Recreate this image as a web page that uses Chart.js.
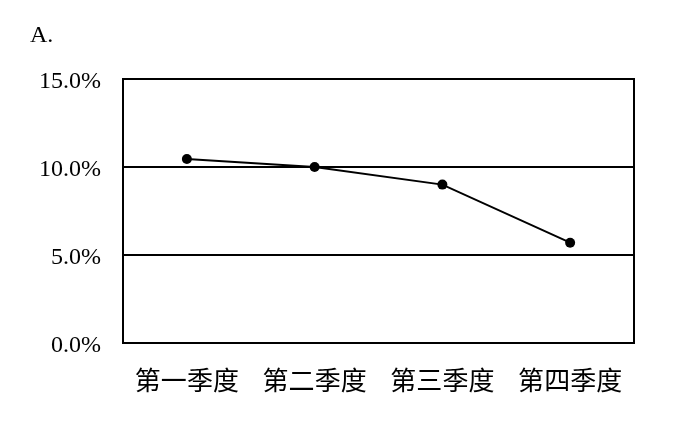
<!DOCTYPE html>
<html>
<head>
<meta charset="utf-8">
<script src="https://cdn.jsdelivr.net/npm/chart.js@4"></script>
<style>
  html, body { margin: 0; padding: 0; background: #fff; }
  #wrap { position: relative; width: 700px; height: 424px; }
  #tag { position: absolute; left: 30px; top: 21px; font: 24px "Liberation Serif", serif; color: #000; }
</style>
</head>
<body>
<div id="wrap">
  <div id="tag">A.</div>
  <canvas id="myChart" width="700" height="424"></canvas>
</div>
<script>
const quarters = ["第一季度", "第二季度", "第三季度", "第四季度"];
const rates = [10.45, 10.0, 9.0, 5.7];
const yTicks = [0, 5, 10, 15];

// box round the plot area
const frame = {
  id: "frame",
  afterDraw(chart) {
    const { ctx, chartArea: a } = chart;
    ctx.save();
    ctx.strokeStyle = "#000";
    ctx.lineWidth = 2;
    ctx.strokeRect(a.left, a.top, a.right - a.left, a.bottom - a.top);
    ctx.restore();
  },
};

const ctx = document.getElementById("myChart").getContext("2d");
new Chart(ctx, {
  type: "line",
  data: {
    labels: quarters,
    datasets: [
      {
        data: rates,
        borderColor: "#000",
        backgroundColor: "#000",
        borderWidth: 2,
        pointRadius: 5,
        pointBackgroundColor: "#000",
        pointBorderWidth: 0,
        tension: 0,
      },
    ],
  },
  options: {
    responsive: false,
    animation: false,
    layout: { padding: { top: 79, right: 66, bottom: 0, left: 0 } },
    plugins: { legend: { display: false }, tooltip: { enabled: false } },
    scales: {
      x: {
        offset: true,
        grid: { display: false, drawTicks: false },
        border: { color: "#000", width: 2 },
        ticks: {
          color: "#000",
          padding: 22,
          font: { family: "'Noto Sans CJK SC'", size: 26 },
        },
        afterFit: (scale) => { scale.height = 81; },
      },
      y: {
        min: 0,
        max: 15,
        afterBuildTicks: (scale) => { scale.ticks = yTicks.map((v) => ({ value: v })); },
        grid: { color: "#000", lineWidth: 2, drawTicks: false },
        border: { color: "#000", width: 2 },
        ticks: {
          color: "#000",
          padding: 22,
          labelOffset: 3,
          font: { family: "'Liberation Serif'", size: 24 },
          callback: (v) => v.toFixed(1) + "%",
        },
        afterFit: (scale) => { scale.width = 123; },
      },
    },
  },
  plugins: [frame],
});
</script>
</body>
</html>
